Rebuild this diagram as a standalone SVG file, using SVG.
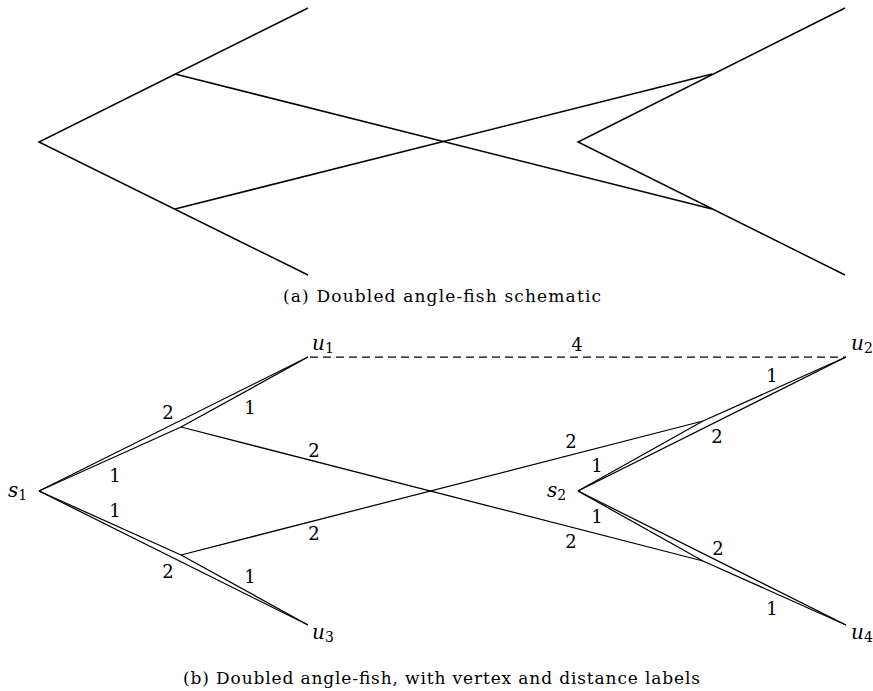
<svg xmlns="http://www.w3.org/2000/svg" width="873" height="691" viewBox="0 0 873 691">
<style>
.e{stroke:#000;stroke-width:1.5;fill:none;stroke-linejoin:miter;stroke-linecap:butt}
.f{stroke:#000;stroke-width:1.25;fill:none;stroke-linejoin:miter}
.d{stroke:#000;stroke-width:1.25;fill:none;stroke-dasharray:8 5}
text{font-family:'DejaVu Serif','Liberation Serif',serif;fill:#000}
.n{font-size:18px;text-anchor:middle}
.v{font-size:20px;font-style:italic}
.s{font-size:14px;font-style:normal}
.c{font-size:17px}
</style>
<rect width="873" height="691" fill="#fff"/>
<g id="schematic-a">
  <g id="connectors-a">
    <polyline class="e" points="308,8 39,142 308,275"/>
    <polyline class="e" points="845,8 578,142 845,275"/>
    <line class="e" x1="175" y1="74" x2="712" y2="209"/>
    <line class="e" x1="175" y1="209" x2="712" y2="74"/>
  </g>
  <text class="c" x="283" y="302" textLength="318" lengthAdjust="spacing">(a) Doubled angle-fish schematic</text>
</g>
<g id="connectors-b">
  <line class="f" x1="39" y1="491" x2="308" y2="357"/>
  <polyline class="f" points="39,491 181,427 308,357"/>
  <line class="f" x1="39" y1="491" x2="308" y2="625"/>
  <polyline class="f" points="39,491 181,555 308,625"/>
  <line class="f" x1="578" y1="491" x2="846" y2="357"/>
  <polyline class="f" points="578,491 703,421 846,357"/>
  <line class="f" x1="578" y1="491" x2="846" y2="625"/>
  <polyline class="f" points="578,491 703,561 846,625"/>
  <line class="f" x1="181" y1="427" x2="703" y2="561"/>
  <line class="f" x1="181" y1="555" x2="703" y2="421"/>
  <line class="d" x1="310" y1="357" x2="846" y2="357"/>
</g>
<g id="edge-labels">
  <text class="n" x="577" y="351">4</text>
  <text class="n" x="168" y="419">2</text>
  <text class="n" x="250" y="414">1</text>
  <text class="n" x="115" y="482">1</text>
  <text class="n" x="314" y="457">2</text>
  <text class="n" x="115" y="517">1</text>
  <text class="n" x="168" y="578">2</text>
  <text class="n" x="250" y="583">1</text>
  <text class="n" x="314" y="540">2</text>
  <text class="n" x="571" y="448">2</text>
  <text class="n" x="597" y="472">1</text>
  <text class="n" x="772" y="382">1</text>
  <text class="n" x="717" y="443">2</text>
  <text class="n" x="597" y="523">1</text>
  <text class="n" x="571" y="548">2</text>
  <text class="n" x="718" y="555">2</text>
  <text class="n" x="772" y="615">1</text>
</g>
<g id="s1"><text class="v" x="8" y="497">s<tspan class="s" dy="3">1</tspan></text></g>
<g id="s2"><text class="v" x="547" y="497">s<tspan class="s" dy="3">2</tspan></text></g>
<g id="u1"><text class="v" x="312" y="350">u<tspan class="s" dy="3">1</tspan></text></g>
<g id="u2"><text class="v" x="851" y="350">u<tspan class="s" dy="3">2</tspan></text></g>
<g id="u3"><text class="v" x="312" y="639">u<tspan class="s" dy="3">3</tspan></text></g>
<g id="u4"><text class="v" x="851" y="639">u<tspan class="s" dy="3">4</tspan></text></g>
<text class="c" x="183" y="684" textLength="517" lengthAdjust="spacing">(b) Doubled angle-fish, with vertex and distance labels</text>
</svg>
